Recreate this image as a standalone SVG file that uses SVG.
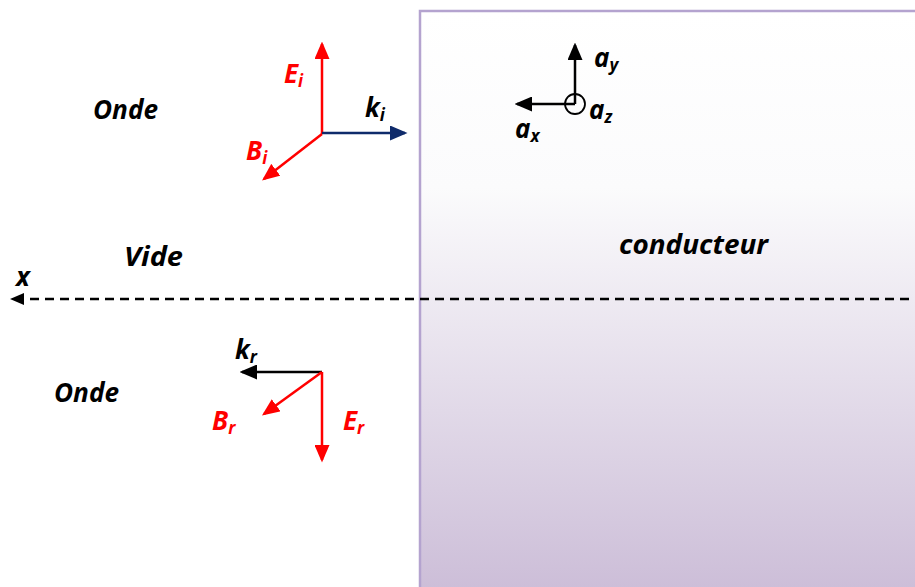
<svg xmlns="http://www.w3.org/2000/svg" width="915" height="587" viewBox="0 0 915 587">
<defs>
<linearGradient id="cond" x1="0" y1="0" x2="0" y2="1">
<stop offset="0" stop-color="#ffffff"/>
<stop offset="0.3" stop-color="#fbfbfc"/>
<stop offset="1" stop-color="#cbbcd7"/>
</linearGradient>
<marker id="ahR" markerWidth="7" markerHeight="6" refX="6" refY="3" orient="auto" markerUnits="strokeWidth"><path d="M0,0 L7,3 L0,6 z" fill="#ff0000"/></marker>
<marker id="ahK" markerWidth="7" markerHeight="6" refX="6" refY="3" orient="auto" markerUnits="strokeWidth"><path d="M0,0 L7,3 L0,6 z" fill="#000000"/></marker>
<marker id="ahN" markerWidth="7" markerHeight="6" refX="6" refY="3" orient="auto" markerUnits="strokeWidth"><path d="M0,0 L7,3 L0,6 z" fill="#0f2b6b"/></marker>
</defs>
<style>
text{font-family:"Open Sans",Lato,"Liberation Sans",sans-serif;font-weight:bold;font-style:italic;font-size:26px;fill:#000}
.red{fill:#ff0000}
.sub{font-size:17px}
.r{stroke:#ff0000;stroke-width:2.5;fill:none;marker-end:url(#ahR)}
.k{stroke:#000;stroke-width:2.5;fill:none;marker-end:url(#ahK)}
.n{stroke:#0f2b6b;stroke-width:2.5;fill:none;marker-end:url(#ahN)}
</style>
<rect width="915" height="587" fill="#ffffff"/>
<g id="conducteur">
<rect x="420" y="11" width="500" height="590" fill="url(#cond)" stroke="#b4a3cf" stroke-width="2.5"/>
<text x="619" y="254" textLength="149" lengthAdjust="spacingAndGlyphs">conducteur</text>
</g>
<g id="labels">
<text x="93" y="119" textLength="65" lengthAdjust="spacingAndGlyphs">Onde</text>
<text x="124" y="266" textLength="59" lengthAdjust="spacingAndGlyphs">Vide</text>
<text x="54" y="402" textLength="65" lengthAdjust="spacingAndGlyphs">Onde</text>
</g>
<g id="connectors">
<line class="r" x1="322" y1="134" x2="322" y2="44"/>
<line class="n" x1="322" y1="133" x2="405" y2="133"/>
<line class="r" x1="322" y1="134" x2="264" y2="179"/>
<line class="k" x1="575" y1="104" x2="575" y2="45"/>
<line class="k" x1="575" y1="104" x2="517" y2="104"/>
<line x1="909" y1="299" x2="22" y2="299" stroke="#000" stroke-width="2.5" stroke-dasharray="9,6"/>
<path d="M10,299 L24,293 L24,305 z" fill="#000"/>
<line class="k" x1="322" y1="372" x2="242" y2="372"/>
<line class="r" x1="322" y1="372" x2="322" y2="460"/>
<line class="r" x1="322" y1="372" x2="264" y2="414"/>
</g>
<g id="axes">
<circle cx="575" cy="104" r="10" fill="none" stroke="#000" stroke-width="1.8"/>
<text x="594" y="67">a<tspan class="sub" dy="4">y</tspan></text>
<text x="589" y="119">a<tspan class="sub" dy="4">z</tspan></text>
<text x="515" y="138">a<tspan class="sub" dy="4">x</tspan></text>
<text x="16" y="286">x</text>
</g>
<g id="incident">
<text class="red" x="284" y="83">E<tspan class="sub" dy="4">i</tspan></text>
<text x="365" y="117">k<tspan class="sub" dy="4">i</tspan></text>
<text class="red" x="246" y="160">B<tspan class="sub" dy="4">i</tspan></text>
</g>
<g id="reflected">
<text x="235" y="359">k<tspan class="sub" dy="4">r</tspan></text>
<text class="red" x="212" y="430">B<tspan class="sub" dy="4">r</tspan></text>
<text class="red" x="343" y="430">E<tspan class="sub" dy="4">r</tspan></text>
</g>
</svg>
